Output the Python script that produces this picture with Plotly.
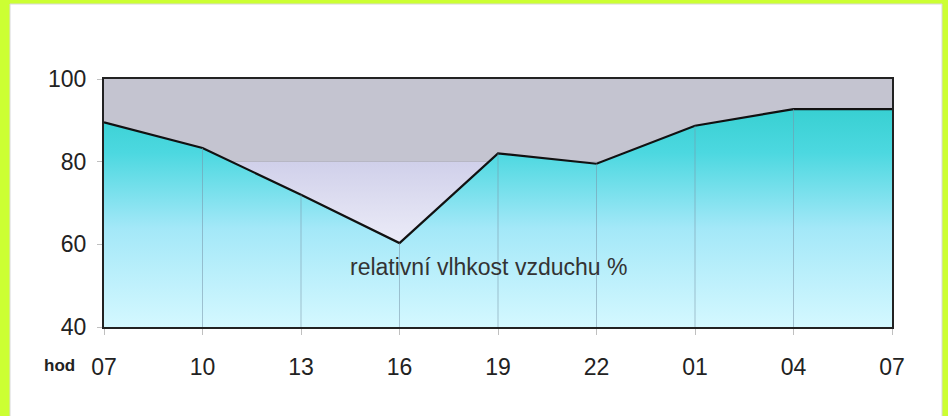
import plotly.graph_objects as go

# Data
hours = ["07", "10", "13", "16", "19", "22", "01", "04", "07"]
humidity = [89.5, 83.3, 72.0, 60.3, 82.0, 79.5, 88.7, 92.7, 92.7]
y_ticks = [40, 60, 80, 100]
y_range = [40, 100]
band_split = 80
label_text = "relativní vlhkost vzduchu %"
axis_label = "hod"

xi = list(range(len(hours)))
W, H = 948, 416
L, R, T, B = 104, 56, 79, 89
pw, ph = W - L - R, H - T - B

def px(p):
    return (p - L) / pw

def py(p):
    return (H - B - p) / ph

fig = go.Figure()

# lower background band with gradient (lavender -> white)
fig.add_trace(go.Scatter(
    x=[xi[0], xi[-1], xi[-1], xi[0], xi[0]],
    y=[band_split, band_split, y_range[0], y_range[0], band_split],
    mode="lines", line=dict(width=0), fill="toself",
    fillgradient=dict(type="vertical", start=y_range[0], stop=band_split,
                      colorscale=[[0, "#ffffff"], [0.5, "#ececf8"], [1, "#d0d0ea"]]),
    hoverinfo="skip", showlegend=False))

# humidity area
fig.add_trace(go.Scatter(
    x=xi, y=humidity, mode="lines",
    line=dict(color="#111111", width=2.2),
    fill="tozeroy",
    fillgradient=dict(type="vertical", start=y_range[0], stop=max(humidity),
                      colorscale=[[0, "#d4f8ff"], [0.45, "#a4e8f8"], [0.8, "#4cd8e0"], [1, "#38d0d2"]]),
    hoverinfo="skip", showlegend=False))

shapes = [
    # white page inside green frame
    dict(type="rect", xref="paper", yref="paper",
         x0=px(10), x1=px(942), y0=py(420), y1=py(4),
         fillcolor="white", line=dict(color="#d8d8d8", width=1), layer="below"),
    # upper grey band
    dict(type="rect", xref="x", yref="y", x0=xi[0], x1=xi[-1],
         y0=band_split, y1=y_range[1], fillcolor="#c4c4d0",
         line=dict(width=0), layer="below"),
    # line at band split
    dict(type="line", xref="x", yref="y", x0=xi[0], x1=xi[-1],
         y0=band_split, y1=band_split, line=dict(color="#a8a8b0", width=1), layer="below"),
]
# vertical gridlines over the area
for i in xi[1:-1]:
    shapes.append(dict(type="line", xref="x", yref="y", x0=i, x1=i,
                       y0=y_range[0], y1=humidity[i],
                       line=dict(color="rgba(120,150,170,0.55)", width=1), layer="above"))

fig.update_layout(
    width=W, height=H,
    margin=dict(l=L, r=R, t=T, b=B),
    paper_bgcolor="#ccff33",
    plot_bgcolor="rgba(0,0,0,0)",
    font=dict(family="Liberation Sans, Arial, sans-serif", color="#222222"),
    shapes=shapes,
    xaxis=dict(range=[xi[0], xi[-1]], tickvals=xi, ticktext=hours,
               showgrid=False, zeroline=False, showline=True, mirror=True,
               linecolor="#222222", linewidth=2,
               ticks="outside", ticklen=6, tickcolor="#c0c0c0",
               tickfont=dict(size=23), ticklabelstandoff=12),
    yaxis=dict(range=y_range, tickvals=y_ticks, showgrid=False, zeroline=False,
               showline=True, mirror=True, linecolor="#222222", linewidth=2,
               ticks="outside", ticklen=5, tickcolor="#c0c0c0",
               tickfont=dict(size=23), ticklabelstandoff=6),
    annotations=[
        dict(text=label_text, x=3.9, y=54.6, xref="x", yref="y",
             showarrow=False, font=dict(size=23, color="#333333")),
        dict(text="<b>" + axis_label + "</b>", x=px(59), y=py(365), xref="paper", yref="paper",
             xanchor="center", yanchor="middle",
             showarrow=False, font=dict(size=17, color="#222222")),
    ],
)

fig.write_html("out.html", config={"displayModeBar": False},
               post_script="document.body.style.margin='0';document.body.style.overflow='hidden';")
